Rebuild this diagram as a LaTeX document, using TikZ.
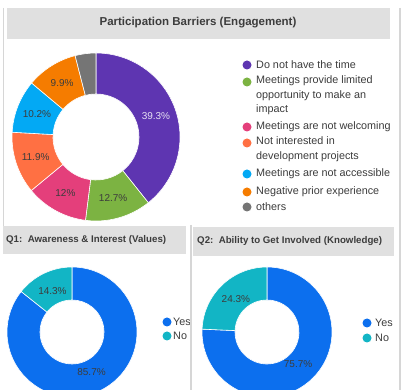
\documentclass[tikz,border=0pt]{standalone}
\usepackage{fontspec}
\setmainfont{Liberation Sans}

\definecolor{hdrgray}{HTML}{E0E0E0}
\definecolor{linegray}{HTML}{D6D6D6}
\definecolor{txtgray}{HTML}{3C3C3C}
\definecolor{cpurple}{HTML}{5E35B1}
\definecolor{cgreen}{HTML}{7CB342}
\definecolor{cpink}{HTML}{E43F7B}
\definecolor{ccoral}{HTML}{FF7043}
\definecolor{clblue}{HTML}{03A9F4}
\definecolor{corange}{HTML}{F57C00}
\definecolor{cgray}{HTML}{757575}
\definecolor{cyes}{HTML}{0C6FEE}
\definecolor{cno}{HTML}{12B5C5}

% one ring segment: centre, outer r, inner r, from, to, colour
\newcommand{\donutslice}[6]{%
  \fill[#6, draw=white, line width=0.6pt]
    ([shift={(#4:#2)}]#1) arc[start angle=#4, end angle=#5, radius=#2]
    -- ([shift={(#5:#3)}]#1) arc[start angle=#5, end angle=#4, radius=#3] -- cycle;}

\begin{document}
\begin{tikzpicture}[
        x=1pt, y=1pt,
        header/.style={fill=hdrgray, draw=none},
        title/.style={font=\bfseries\fontsize{11.5}{13}\selectfont, text=txtgray},
        subtitle/.style={font=\bfseries\fontsize{9.7}{11}\selectfont, text=txtgray, anchor=west, inner sep=0},
        pct/.style={font=\fontsize{10}{11}\selectfont, text=txtgray, inner sep=0},
        dot/.style={circle, minimum size=9pt, inner sep=0},
        entry/.style={font=\fontsize{10.8}{14.5}\selectfont, text=txtgray, anchor=west, inner sep=0, align=left}
    ]
        \useasboundingbox[fill=white] (0,0) rectangle (401,390);

        % Panel frames
        \draw[linegray, line width=1pt] (3,382) -- (3,160);
        \draw[linegray, line width=1.2pt] (400,382) -- (400,0);
        \draw[linegray, line width=1.2pt] (191,165) -- (191,0);

        % Headers
        \fill[header] (7,382) rectangle (390,351);
        \node[title] (t0) at (198,367) {Participation Barriers (Engagement)};
        \fill[header] (3,164) rectangle (186,136);
        \node[subtitle] (t1) at (6,150) {Q1:\ \ Awareness \& Interest (Values)};
        \fill[header] (193,163) rectangle (394,134);
        \node[subtitle] (t2) at (197,149) {Q2:\ \ Ability to Get Involved (Knowledge)};

        % Barriers donut
        \coordinate (c0) at (96,253);
        \donutslice{c0}{84}{43}{90}{-51.48}{cpurple}
        \donutslice{c0}{84}{43}{-51.48}{-97.2}{cgreen}
        \donutslice{c0}{84}{43}{-97.2}{-140.4}{cpink}
        \donutslice{c0}{84}{43}{-140.4}{-183.24}{ccoral}
        \donutslice{c0}{84}{43}{-183.24}{-219.96}{clblue}
        \donutslice{c0}{84}{43}{-219.96}{-255.6}{corange}
        \donutslice{c0}{84}{43}{-255.6}{-270}{cgray}
        \node[pct, text=white!85!cpurple] (p1) at ([shift={(19.26:63.5)}]c0) {39.3\%};
        \node[pct] (p2) at ([shift={(-74.34:63.5)}]c0) {12.7\%};
        \node[pct] (p3) at ([shift={(-118.8:63.5)}]c0) {12\%};
        \node[pct] (p4) at ([shift={(-161.82:63.5)}]c0) {11.9\%};
        \node[pct] (p5) at ([shift={(-201.6:63.5)}]c0) {10.2\%};
        \node[pct] (p6) at ([shift={(-237.78:63.5)}]c0) {9.9\%};

        % Barriers legend
        \node[dot, fill=cpurple] (d1) at (247,325) {};
        \node[entry] (l1) at (256,325) {Do not have the time};
        \node[dot, fill=cgreen] (d2) at (247,308) {};
        \node[entry, anchor=north west] (l2) at (256,314.5) {Meetings provide limited\\opportunity to make an\\impact};
        \node[dot, fill=cpink] (d3) at (247,263) {};
        \node[entry] (l3) at (256,263) {Meetings are not welcoming};
        \node[dot, fill=ccoral] (d4) at (247,247) {};
        \node[entry, anchor=north west] (l4) at (256,253.5) {Not interested in\\development projects};
        \node[dot, fill=clblue] (d5) at (247,216) {};
        \node[entry] (l5) at (256,216) {Meetings are not accessible};
        \node[dot, fill=corange] (d6) at (247,198) {};
        \node[entry] (l6) at (256,198) {Negative prior experience};
        \node[dot, fill=cgray] (d7) at (247,183) {};
        \node[entry] (l7) at (256,183) {others};

        % Q1 donut
        \coordinate (c1) at (72,58);
        \donutslice{c1}{65}{32}{90}{-218.52}{cyes}
        \donutslice{c1}{65}{32}{141.48}{90}{cno}
        \node[pct] (q1n) at ([shift={(115.74:45)}]c1) {14.3\%};
        \node[pct] (q1y) at ([shift={(-64.26:45)}]c1) {85.7\%};
        \begin{scope}
            \clip (150,0) rectangle (189.5,90);
            \node[dot, fill=cyes] (q1d1) at (167,68) {};
            \node[entry] (q1l1) at (173,68) {Yes};
            \node[dot, fill=cno] (q1d2) at (167,54) {};
            \node[entry] (q1l2) at (173,54) {No};
        \end{scope}

        % Q2 donut
        \coordinate (c2) at (267,58);
        \donutslice{c2}{65}{32}{90}{-182.52}{cyes}
        \donutslice{c2}{65}{32}{177.48}{90}{cno}
        \node[pct] (q2n) at ([shift={(133.74:45)}]c2) {24.3\%};
        \node[pct] (q2y) at ([shift={(-46.26:45)}]c2) {75.7\%};
        \node[dot, fill=cyes] (q2d1) at (367,67) {};
        \node[entry] (q2l1) at (375,67) {Yes};
        \node[dot, fill=cno] (q2d2) at (367,52) {};
        \node[entry] (q2l2) at (375,52) {No};
    \end{tikzpicture}
\end{document}
